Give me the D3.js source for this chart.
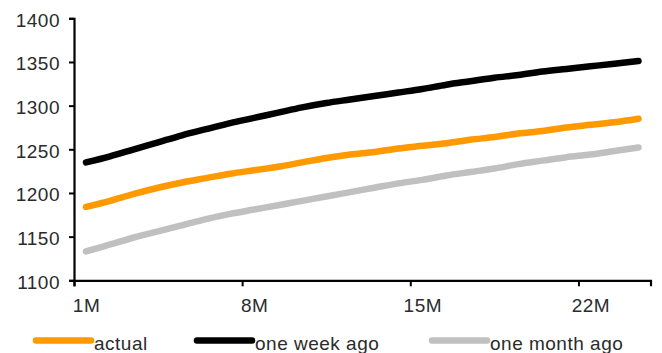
<!DOCTYPE html>
<html>
<head>
<meta charset="utf-8">
<script src="https://cdn.jsdelivr.net/npm/d3@7"></script>
<style>
  html, body { margin: 0; padding: 0; background: #fff; }
  svg { display: block; }
  text { font-family: "Liberation Sans", Arial, sans-serif; }
</style>
</head>
<body>
<svg id="chart" width="662" height="353"></svg>
<script>
const categories = ["1M","2M","3M","4M","5M","6M","7M","8M","9M","10M","11M","12M",
                    "13M","14M","15M","16M","17M","18M","19M","20M","21M","22M","23M","24M"];
const actual = [1184,1191,1199,1206,1212,1217,1222,1226,1230,1235,1240,1244,
                1247,1251,1254,1257,1261,1264,1268,1271,1275,1278,1281,1285];
const oneWeekAgo = [1235,1242,1250,1258,1266,1273,1280,1286,1292,1298,1303,1307,
                    1311,1315,1319,1324,1328,1332,1335,1339,1342,1345,1348,1351];
const oneMonthAgo = [1133,1141,1149,1156,1163,1170,1176,1181,1186,1191,1196,1201,
                     1206,1211,1215,1220,1224,1228,1233,1237,1241,1244,1248,1252];
const yTicks = [1100,1150,1200,1250,1300,1350,1400];
const xTickLabels = ["1M","8M","15M","22M"];
const seriesNames = ["actual","one week ago","one month ago"];
const seriesColors = ["#FF9900","#000000","#C0C0C0"];

const svg = d3.select("#chart");
const mLeft = 74, mRight = 650.5, mTop = 18.3, mBottom = 280.3;

const x = d3.scaleLinear().domain([0, categories.length]).range([mLeft, mRight]);
const y = d3.scaleLinear().domain([1100, 1400]).range([mBottom, mTop]);

const textColor = "#2b2b2b";

// y axis
const yAxis = svg.append("g")
  .attr("transform", `translate(${mLeft},0)`)
  .call(d3.axisLeft(y).tickValues(yTicks).tickSize(5).tickPadding(9).tickFormat(d3.format("d")));
yAxis.select(".domain").attr("stroke", "#000").attr("stroke-width", 2.2);
yAxis.selectAll(".tick line").attr("stroke", "#000").attr("stroke-width", 2);
yAxis.selectAll(".tick text")
  .attr("font-size", 19).attr("fill", textColor)
  .attr("dy", "0.42em").style("letter-spacing", "0.5px");

// x axis: ticks at category boundaries, labels centred on categories
const tickIdx = xTickLabels.map(l => categories.indexOf(l));
const xAxis = svg.append("g")
  .attr("transform", `translate(0,${mBottom})`)
  .call(d3.axisBottom(x).tickValues(tickIdx).tickSize(6).tickPadding(12)
        .tickFormat(i => categories[i]));
xAxis.select(".domain").attr("stroke", "#000").attr("stroke-width", 2.2);
xAxis.selectAll(".tick line").attr("stroke", "#000").attr("stroke-width", 2);
xAxis.selectAll(".tick text")
  .attr("font-size", 19).attr("fill", textColor)
  .attr("x", (x(1) - x(0)) / 2)
  .style("letter-spacing", "0.5px");

// lines
const line = d3.line()
  .x((d, i) => x(i + 0.5))
  .y(d => y(d))
  .curve(d3.curveMonotoneX);

const allSeries = [actual, oneWeekAgo, oneMonthAgo];
const drawOrder = [2, 0, 1];
drawOrder.forEach(k => {
  svg.append("path")
    .datum(allSeries[k])
    .attr("d", line)
    .attr("fill", "none")
    .attr("stroke", seriesColors[k])
    .attr("stroke-width", 6.5)
    .attr("stroke-linecap", "round")
    .attr("stroke-linejoin", "round");
});

// legend
const legendX = [36, 197, 432];
const legend = svg.append("g");
seriesNames.forEach((name, k) => {
  legend.append("line")
    .attr("x1", legendX[k]).attr("x2", legendX[k] + 55)
    .attr("y1", 340.5).attr("y2", 340.5)
    .attr("stroke", seriesColors[k]).attr("stroke-width", 6.5)
    .attr("stroke-linecap", "round");
  legend.append("text")
    .attr("x", legendX[k] + 58).attr("y", 349.5)
    .attr("font-size", 19).attr("fill", textColor)
    .style("letter-spacing", "0.5px")
    .text(name);
});
</script>
</body>
</html>
